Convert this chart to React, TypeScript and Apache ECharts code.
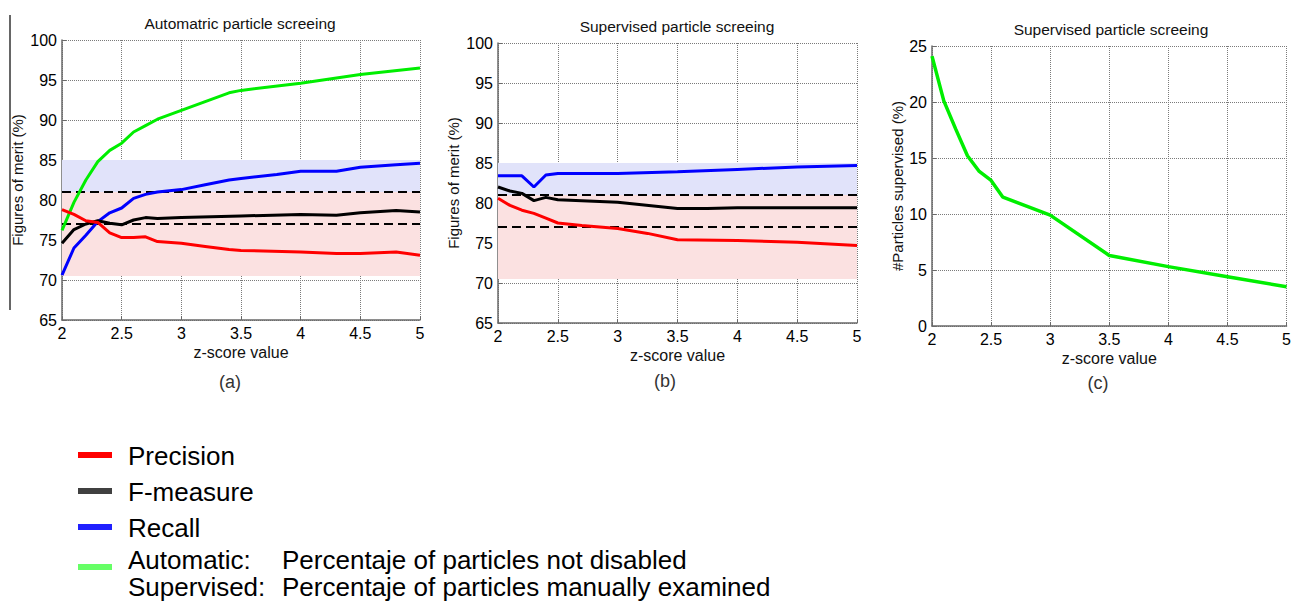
import React, { useEffect, useRef } from "react";
import * as echarts from "echarts";

// ---------- Data ----------
// Panel (a): Automatic particle screeing
const aPrecX = [2, 2.1, 2.2, 2.3, 2.4, 2.5, 2.6, 2.7, 2.8, 3.0, 3.2, 3.4, 3.5, 4.0, 4.3, 4.5, 4.8, 5.0];
const aPrecY = [78.8, 78.2, 77.4, 77.2, 75.9, 75.3, 75.3, 75.4, 74.8, 74.6, 74.2, 73.8, 73.7, 73.5, 73.3, 73.3, 73.5, 73.1];
const aFmX = [2, 2.1, 2.2, 2.3, 2.4, 2.5, 2.6, 2.7, 2.8, 3.0, 3.5, 4.0, 4.3, 4.5, 4.8, 5.0];
const aFmY = [74.6, 76.3, 77.0, 77.4, 77.1, 76.9, 77.5, 77.8, 77.7, 77.8, 78.0, 78.2, 78.1, 78.4, 78.7, 78.5];
const aRecX = [2, 2.1, 2.2, 2.3, 2.4, 2.5, 2.6, 2.7, 2.8, 3.0, 3.2, 3.4, 3.5, 3.8, 4.0, 4.3, 4.5, 4.8, 5.0];
const aRecY = [70.6, 74.0, 75.6, 77.3, 78.4, 79.0, 80.2, 80.7, 81.0, 81.3, 81.9, 82.5, 82.7, 83.2, 83.6, 83.6, 84.1, 84.4, 84.6];
const aPctX = [2, 2.1, 2.2, 2.3, 2.4, 2.5, 2.6, 2.7, 2.8, 3.0, 3.2, 3.4, 3.5, 4.0, 4.5, 5.0];
const aPctY = [76.2, 79.7, 82.5, 84.8, 86.2, 87.1, 88.5, 89.3, 90.1, 91.2, 92.3, 93.4, 93.7, 94.6, 95.7, 96.5];

// Panel (b): Supervised particle screeing
const bRecX = [2, 2.2, 2.3, 2.4, 2.5, 3.0, 3.5, 4.0, 4.5, 5.0];
const bRecY = [83.4, 83.4, 82.0, 83.5, 83.7, 83.7, 83.9, 84.2, 84.5, 84.7];
const bFmX = [2, 2.1, 2.2, 2.3, 2.4, 2.5, 3.0, 3.5, 3.75, 4.0, 5.0];
const bFmY = [82.0, 81.5, 81.2, 80.3, 80.7, 80.4, 80.1, 79.3, 79.3, 79.4, 79.4];
const bPrecX = [2, 2.1, 2.2, 2.3, 2.4, 2.5, 2.7, 3.0, 3.25, 3.5, 4.0, 4.5, 5.0];
const bPrecY = [80.6, 79.7, 79.1, 78.7, 78.1, 77.5, 77.2, 76.8, 76.2, 75.4, 75.3, 75.1, 74.7];

// Panel (c): #Particles supervised (%)
const cSupX = [2, 2.1, 2.2, 2.3, 2.4, 2.5, 2.6, 2.8, 3.0, 3.5, 4.0, 4.5, 5.0];
const cSupY = [24.1, 20.1, 17.6, 15.2, 13.8, 13.0, 11.5, 10.7, 9.9, 6.3, 5.3, 4.4, 3.5];

// Reference bands and thresholds
const bandBlue = [85, 81];
const bandPink = [81, 70.5];
const thresholds = [81, 77];

const panelTitles = ["Automatric particle screeing", "Supervised particle screeing", "Supervised particle screeing"];
const panelTags = ["(a)", "(b)", "(c)"];
const legendLabels = ["Precision", "F-measure", "Recall"];

const pairs = (xs: number[], ys: number[]) => xs.map((x, i) => [x, ys[i]]);

const FONT = "Liberation Sans, Arial, Helvetica, sans-serif";
const RED = "#ff0000";
const BLACK = "#000000";
const BLUE = "#0000ff";
const GREEN = "#00ee00";

function xAxisFor(gridIndex: number) {
  return {
    type: "value",
    gridIndex,
    min: 2,
    max: 5,
    interval: 0.5,
    name: "z-score value",
    nameLocation: "middle",
    nameGap: 24,
    nameTextStyle: { fontFamily: FONT, fontSize: 16, color: "#111" },
    axisLine: { show: true, onZero: false, lineStyle: { color: "#6a6a6a", width: 1.5 } },
    axisTick: { show: true, inside: true, length: 4, lineStyle: { color: "#6a6a6a" } },
    axisLabel: { fontFamily: FONT, fontSize: 16, color: "#000", margin: 5 },
    splitLine: { show: true, lineStyle: { type: "dotted", color: "#7a7a7a", width: 1 } },
  };
}

function yAxisFor(gridIndex: number, min: number, max: number, name: string, nameGap: number) {
  return {
    type: "value",
    gridIndex,
    min,
    max,
    interval: 5,
    name,
    nameLocation: "middle",
    nameRotate: 90,
    nameGap,
    nameTextStyle: { fontFamily: FONT, fontSize: 15, color: "#111" },
    axisLine: { show: true, onZero: false, lineStyle: { color: "#6a6a6a", width: 1.5 } },
    axisTick: { show: true, inside: true, length: 4, lineStyle: { color: "#6a6a6a" } },
    axisLabel: { fontFamily: FONT, fontSize: 16, color: "#000", margin: 5 },
    splitLine: { show: true, lineStyle: { type: "dotted", color: "#7a7a7a", width: 1 } },
  };
}

function lineSeries(name: string, data: number[][], color: string, idx: number, width = 3) {
  return {
    type: "line",
    name,
    xAxisIndex: idx,
    yAxisIndex: idx,
    data,
    symbol: "none",
    z: 5,
    lineStyle: { color, width },
    itemStyle: { color },
  };
}

function bandSeries(idx: number) {
  return {
    type: "line",
    name: "bands" + idx,
    xAxisIndex: idx,
    yAxisIndex: idx,
    data: [
      [2, 100],
      [5, 100],
    ],
    symbol: "none",
    silent: true,
    z: 1,
    lineStyle: { width: 0, opacity: 0 },
    markArea: {
      silent: true,
      data: [
        [
          { yAxis: bandBlue[0], itemStyle: { color: "#e1e3fa" } },
          { yAxis: bandBlue[1] },
        ],
        [
          { yAxis: bandPink[0], itemStyle: { color: "#fbe1e1" } },
          { yAxis: bandPink[1] },
        ],
      ],
    },
    markLine: {
      silent: true,
      symbol: ["none", "none"],
      label: { show: false },
      lineStyle: { color: "#000", width: 2, type: [9, 5] },
      data: thresholds.map((t) => ({ yAxis: t })),
    },
  };
}

export default function App() {
  const ref = useRef<HTMLDivElement>(null);

  useEffect(() => {
    if (!ref.current) return;
    const chart = echarts.init(ref.current, undefined, { renderer: "svg" });

    const titleCenters = [
      [240, 23],
      [677, 26],
      [1111, 29],
    ];
    const tagCenters = [
      [230, 382],
      [665, 381],
      [1098, 383],
    ];
    const legendY = [455, 491, 527];
    const legendColors = [RED, "#404040", "#2020ff"];

    const graphics: any[] = [];
    titleCenters.forEach((c, i) => {
      graphics.push({
        type: "text",
        x: c[0],
        y: c[1],
        style: {
          text: panelTitles[i],
          fontFamily: FONT,
          fontSize: 15.5,
          fill: "#111",
          textAlign: "center",
          textVerticalAlign: "middle",
        },
      });
    });
    tagCenters.forEach((c, i) => {
      graphics.push({
        type: "text",
        x: c[0],
        y: c[1],
        style: {
          text: panelTags[i],
          fontFamily: FONT,
          fontSize: 18,
          fill: "#333",
          textAlign: "center",
          textVerticalAlign: "middle",
        },
      });
    });
    // left edge rule
    graphics.push({
      type: "line",
      shape: { x1: 10, y1: 15, x2: 10, y2: 310 },
      style: { stroke: "#333", lineWidth: 1.5 },
    });
    // legend
    legendLabels.forEach((lab, i) => {
      graphics.push({
        type: "line",
        shape: { x1: 78, y1: legendY[i], x2: 112, y2: legendY[i] },
        style: { stroke: legendColors[i], lineWidth: 6 },
      });
      graphics.push({
        type: "text",
        x: 128,
        y: legendY[i] + 1,
        style: {
          text: lab,
          fontFamily: FONT,
          fontSize: 26,
          fill: "#000",
          textAlign: "left",
          textVerticalAlign: "middle",
        },
      });
    });
    graphics.push({
      type: "line",
      shape: { x1: 78, y1: 567, x2: 112, y2: 567 },
      style: { stroke: "#66ff66", lineWidth: 6 },
    });
    const extra = [
      ["Automatic:", 128, 560],
      ["Percentaje of particles not disabled", 282, 560],
      ["Supervised:", 128, 587],
      ["Percentaje of particles manually examined", 282, 587],
    ];
    extra.forEach((e) => {
      graphics.push({
        type: "text",
        x: e[1],
        y: e[2],
        style: {
          text: e[0],
          fontFamily: FONT,
          fontSize: 26,
          fill: "#000",
          textAlign: "left",
          textVerticalAlign: "middle",
        },
      });
    });

    const option: any = {
      animation: false,
      backgroundColor: "#ffffff",
      textStyle: { fontFamily: FONT },
      grid: [
        { left: 62, top: 40, width: 358, height: 280, containLabel: false },
        { left: 498, top: 43, width: 359, height: 280, containLabel: false },
        { left: 932, top: 46, width: 359, height: 280, containLabel: false },
      ],
      xAxis: [xAxisFor(0), xAxisFor(1), xAxisFor(2)],
      yAxis: [
        yAxisFor(0, 65, 100, "Figures of merit (%)", 37),
        yAxisFor(1, 65, 100, "Figures of merit (%)", 37),
        yAxisFor(2, 0, 25, "#Particles supervised (%)", 27),
      ],
      series: [
        bandSeries(0),
        lineSeries("Automatic: Percentaje of particles not disabled", pairs(aPctX, aPctY), GREEN, 0),
        lineSeries("Recall", pairs(aRecX, aRecY), BLUE, 0),
        lineSeries("F-measure", pairs(aFmX, aFmY), BLACK, 0),
        lineSeries("Precision", pairs(aPrecX, aPrecY), RED, 0),
        bandSeries(1),
        lineSeries("Recall (supervised)", pairs(bRecX, bRecY), BLUE, 1),
        lineSeries("F-measure (supervised)", pairs(bFmX, bFmY), BLACK, 1),
        lineSeries("Precision (supervised)", pairs(bPrecX, bPrecY), RED, 1),
        lineSeries("Supervised: Percentaje of particles manually examined", pairs(cSupX, cSupY), GREEN, 2, 3.5),
      ],
      graphic: graphics,
    };

    chart.setOption(option);
    return () => chart.dispose();
  }, []);

  return (
    <div
      ref={ref}
      style={{ position: "absolute", left: 0, top: 0, width: 1294, height: 604, background: "#fff" }}
    />
  );
}
